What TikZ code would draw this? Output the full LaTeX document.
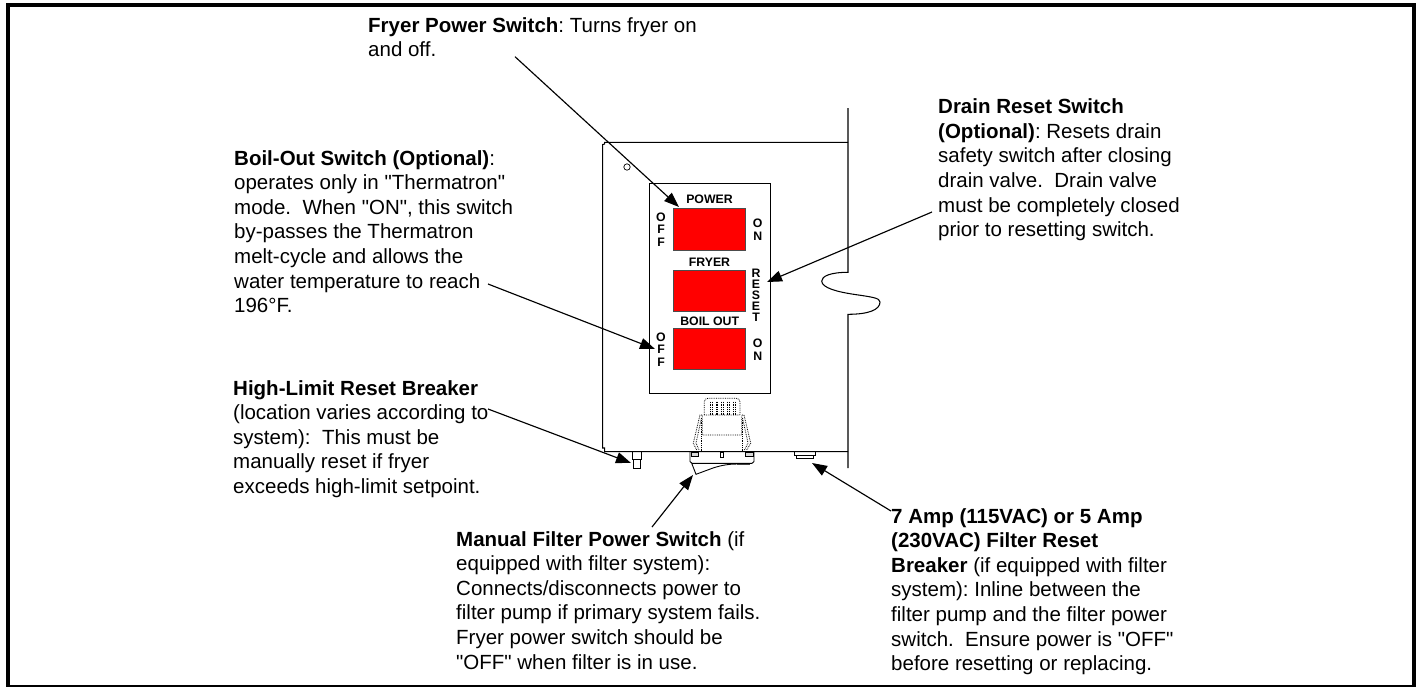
\documentclass[tikz,border=0pt]{standalone}
\usepackage{fontspec}
\setmainfont[Ligatures=TeXOff]{Liberation Sans}
\usetikzlibrary{arrows.meta}
\tikzset{
  x=1pt,y=-1pt,
  lbl/.style={anchor=north west,inner sep=0pt,align=left,font=\fontsize{20.5}{24.6}\selectfont\frenchspacing},
  pan/.style={font=\fontsize{12.3}{12.5}\bfseries\selectfont,inner sep=0pt,align=center},
  sw/.style={draw=black!70,fill=red,line width=0.8pt},
  ln/.style={line width=1.05pt},
  arr/.style={line width=1.15pt,-{Triangle[length=15pt,width=11pt]}},
  dot/.style={line width=0.8pt,densely dotted}
}
\begin{document}
\begin{tikzpicture}
\useasboundingbox (0,0) rectangle (1420,686);
\fill[white] (0,0) rectangle (1420,686);
\draw[line width=4pt] (8,5) rectangle (1414,687);
% cabinet
\draw[ln] (848,108) -- (848,272.3) .. controls (831,272.3) and (821.7,276) .. (821.7,281) .. controls (821.7,288) and (838,292) .. (855,294.5) .. controls (872,297) and (880,298) .. (880,302) .. controls (880,310) and (868,314.3) .. (848,314.3) -- (848,468);
\draw[ln] (848,142.3) -- (604.7,142.3) -- (604.7,144) -- (602.7,144.5) -- (602.7,448) -- (604.7,448) -- (604.7,451.7) -- (848,451.7);
\draw[line width=.7pt] (627,167) circle (3.2);
\draw[ln] (649.3,183.3) rectangle (770.3,393.3);
\draw[sw] (673.3,208.7) rectangle (745.7,250);
\draw[sw] (673.3,270) rectangle (745.7,311);
\draw[sw] (673,328.3) rectangle (745,369.3);
\node[pan] (p1) at (709.5,199) {POWER};
\node[pan] (p2) at (709.5,262.7) {FRYER};
\node[pan] (p3) at (709.7,321.7) {BOIL OUT};
\node[pan] (off1) at (661,229.3) {O\\F\\F};
\node[pan] (on1) at (757.7,229.5) {O\\N};
\node[pan] (off2) at (661,349.6) {O\\F\\F};
\node[pan] (on2) at (757.7,349.8) {O\\N};
\node[pan,font=\fontsize{12.3}{11}\bfseries\selectfont] (res) at (756,295.3) {R\\E\\S\\E\\T};
% breaker left
\draw[line width=.8pt] (632.3,451.7) rectangle (641.7,459);
\draw[line width=.8pt] (633.3,459) rectangle (640,468.3);
% right breaker
\draw[line width=.8pt] (794.3,451.7) -- (794.3,455) -- (815.7,455) -- (815.7,451.7);
\draw[line width=.8pt] (796.7,455) -- (796.7,458.3) -- (813.3,458.3) -- (813.3,455);
% manual switch
\draw[line width=.9pt] (690,451.7) -- (690,461.5) -- (692,463.3) -- (752,463.3) -- (754,461.5) -- (754,451.7);
\draw[line width=.7pt,fill=black!15] (691,452.7) rectangle (698,456.7);
\draw[line width=.7pt,fill=black!15] (745.3,452.7) rectangle (753.3,456.7);
\draw[line width=.7pt] (720,452.7) rectangle (723.3,457.7);
\draw[line width=.9pt] (691.7,463.3) -- (696,474.3) -- (713,468) .. controls (722,465) and (730,464) .. (737,464);
\draw[line width=1.6pt,black!75] (737,464.5) -- (750,464.5);
\draw[dot] (696.7,450) -- (693.3,443.3) -- (700,415) -- (702.3,415) -- (702.3,435) -- (741.7,435) -- (741.7,415) -- (744,415) -- (750.7,443.3) -- (746.7,450);
\draw[dot] (699,450) -- (696,443) -- (701.5,418);
\draw[dot] (744.5,450) -- (748,443) -- (742.5,418);
\draw[dot] (701.7,418) -- (701.7,451);
\draw[dot] (742,418) -- (742,451);
\draw[dot] (704.3,415) -- (704.3,402) .. controls (704.3,399.5) and (705.5,398.3) .. (708,398.3) -- (736,398.3) .. controls (738.5,398.3) and (740,399.5) .. (740,402) -- (740,415) -- cycle;
\foreach \xx in {710.7,712.3,716,717.6,721.7,723.3,727.3,728.9,733.3,734.9}{\draw[dot] (\xx,401.7) -- (\xx,415);}
% labels
\node[lbl] (t1) at (368,17) {\textbf{Fryer Power Switch}: Turns fryer on\\and off.};
\node[lbl] (t2) at (938,98.7) {\textbf{Drain Reset Switch}\\\textbf{(Optional)}: Resets drain\\safety switch after closing\\drain valve.~~Drain valve\\must be completely closed\\prior to resetting switch.};
\node[lbl] (t3) at (234,150) {\textbf{Boil-Out Switch (Optional)}:\\operates only in "Thermatron"\\mode.~~When "ON", this switch\\by-passes the Thermatron\\melt-cycle and allows the\\water temperature to reach\\196°F.};
\node[lbl] (t4) at (233,380) {\textbf{High-Limit Reset Breaker}\\(location varies according to\\system):~~This must be\\manually reset if fryer\\exceeds high-limit setpoint.};
\node[lbl] (t5) at (456,531) {\textbf{Manual Filter Power Switch} (if\\equipped with filter system):\\Connects/disconnects power to\\filter pump if primary system fails.\\Fryer power switch should be\\"OFF" when filter is in use.};
\node[lbl] (t6) at (891,508) {\textbf{7 Amp (115VAC) or 5 Amp}\\\textbf{(230VAC) Filter Reset}\\\textbf{Breaker} (if equipped with filter\\system): Inline between the\\filter pump and the filter power\\switch.~~Ensure power is "OFF"\\before resetting or replacing.};
% arrow ends
\coordinate (a1s) at (515,56.7); \coordinate (a1e) at (679,207);
\coordinate (a2s) at (932,212); \coordinate (a2e) at (767,282);
\coordinate (a3s) at (488,284); \coordinate (a3e) at (655,349);
\coordinate (a4s) at (488,409); \coordinate (a4e) at (631,463);
\coordinate (a5s) at (652,527); \coordinate (a5e) at (693,475);
\coordinate (a6s) at (891,511); \coordinate (a6e) at (812,463);
\draw[arr] (a1s) -- (a1e);
\draw[arr] (a2s) -- (a2e);
\draw[arr] (a3s) -- (a3e);
\draw[arr] (a4s) -- (a4e);
\draw[arr] (a5s) -- (a5e);
\draw[arr] (a6s) -- (a6e);
\end{tikzpicture}
\end{document}
